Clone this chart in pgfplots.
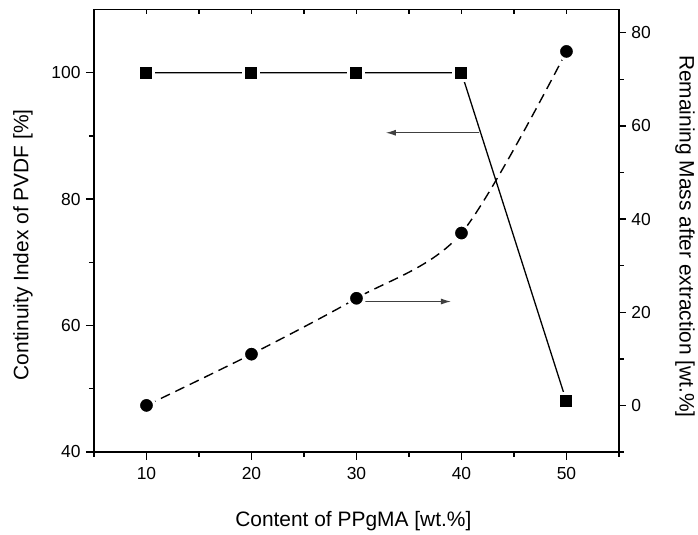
\documentclass[border=0pt]{standalone}
\usepackage{fontspec}
\setmainfont{Liberation Sans}
\usepackage{pgfplots}
\pgfplotsset{compat=1.18}
\usetikzlibrary{arrows.meta}

\pgfplotsset{
  base/.style={
    width=525bp, height=442.5bp, scale only axis,
    xmin=5, xmax=55,
    axis line style={line width=1.6bp},
    every tick/.style={line width=1.4bp, black},
    tick label style={font=\fontsize{17.5}{19}\selectfont},
    label style={font=\fontsize{21}{24}\selectfont},
    /pgf/number format/assume math mode=true,
    clip=false,
  },
}

\begin{document}
\begin{tikzpicture}
% left axis: continuity index
\begin{axis}[base,
  axis x line*=bottom, axis y line*=left,
  ymin=40, ymax=110,
  xtick={10,20,30,40,50}, minor xtick={5,15,25,35,45,55},
  ytick={40,60,80,100}, minor ytick={50,70,90},
  tick align=outside, major tick length=8bp, minor tick length=5bp,
  xticklabel style={yshift=-4bp},
  yticklabel style={xshift=-2bp},
  xlabel={Content of PPgMA [wt.\%]},
  xlabel style={at={(axis description cs:0.494,-0.1695)}, anchor=base},
  ylabel={Continuity Index of PVDF [\%]},
  ylabel style={at={(axis description cs:-0.1352,0.468)}, anchor=center},
]
\addplot[black, line width=1.3bp, mark=square*,
  mark options={solid, fill=black, draw=white, line width=3bp}, mark size=7.5bp]
  coordinates {(10,100) (20,100) (30,100) (40,100) (50,48)};
\draw[black!75, line width=1.1bp, -{Latex[length=10bp,width=6bp]}]
  (axis cs:41.7,90.5) -- (axis cs:32.8,90.5);
\draw[black!75, line width=1.1bp, -{Latex[length=10bp,width=6bp]}]
  (axis cs:30.6,63.8) -- (axis cs:39,63.8);
\end{axis}

% right axis: remaining mass
\begin{axis}[base,
  axis y line*=right, hide x axis,
  ymin=-10, ymax=85,
  ytick={0,20,40,60,80}, minor ytick={-10,10,30,50,70},
  tick align=outside, major tick length=7bp, minor tick length=5bp,
  yticklabel style={xshift=2bp},
  ylabel={Remaining Mass after extraction [wt.\%]},
  ylabel style={at={(axis description cs:1.1257,0.487)}, anchor=center, rotate=180},
]
\addplot[black, line width=1.4bp, dash pattern=on 10bp off 6bp, smooth,
  mark=*, mark options={solid, fill=black, draw=white, line width=3bp}, mark size=8bp]
  coordinates {(10,0) (20,11) (30,23) (40,37) (50,76)};
\end{axis}

% top axis line with inward ticks
\begin{axis}[base,
  axis x line*=top, hide y axis,
  ymin=0, ymax=1,
  xtick={10,20,30,40,50}, minor xtick={5,15,25,35,45,55},
  xticklabels={},
  tick align=inside, major tick length=4.5bp, minor tick length=4.5bp,
]
\end{axis}

\path ([xshift=-94bp,yshift=-78bp]current axis.south west)
  rectangle ([xshift=79bp,yshift=9.5bp]current axis.north east);
\end{tikzpicture}
\end{document}
